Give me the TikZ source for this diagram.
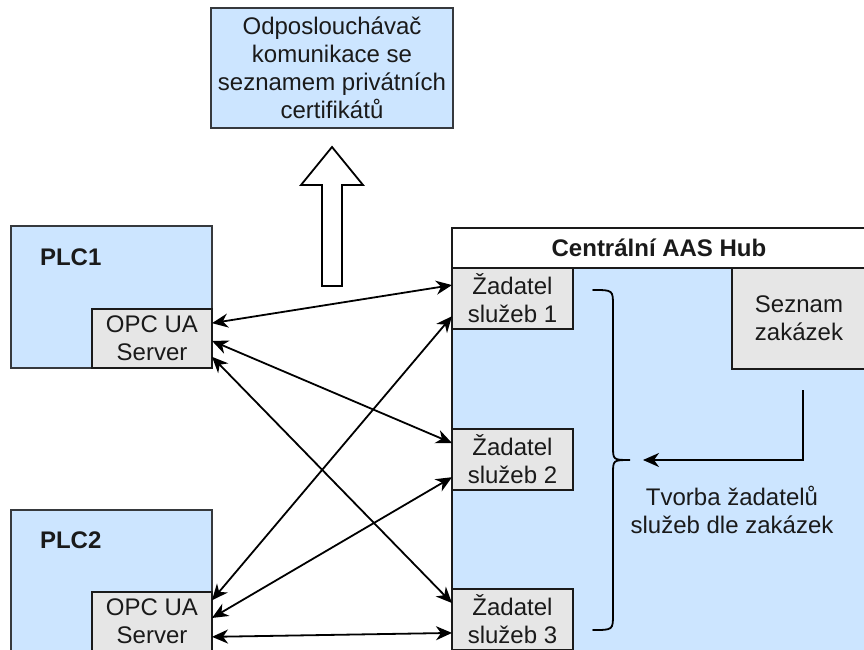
\documentclass[tikz,border=0pt]{standalone}
\usepackage{fontspec}
\setmainfont{Liberation Sans}
\usetikzlibrary{arrows.meta,calc}
\definecolor{boxblue}{HTML}{CCE5FF}
\definecolor{boxedge}{HTML}{36393D}
\definecolor{boxgray}{HTML}{E6E6E6}
\definecolor{ink}{HTML}{1A1A1A}
\tikzset{tipshape/.tip={Stealth[length=16pt,width=14pt,inset=5pt]}}
\begin{document}
\begin{tikzpicture}[x=1pt,y=-1pt,
  every node/.style={inner sep=0pt, outer sep=0pt, text=ink,
    font=\fontsize{24}{28}\selectfont, align=center},
  bluebox/.style={draw=boxedge, fill=boxblue, line width=1.5pt, anchor=north west},
  graybox/.style={draw=ink, fill=boxgray, line width=1.5pt, anchor=north west},
  whitebox/.style={draw=ink, fill=white, line width=1.5pt, anchor=north west},
  conn/.style={draw=black, line width=1.8pt, tipshape-tipshape},
  oneway/.style={draw=black, line width=1.8pt, -tipshape},
  brace/.style={draw=black, line width=1.8pt, line cap=round},
  hollow/.style={draw=black, fill=white, line width=1.8pt, line join=miter}]
\useasboundingbox (0,0) rectangle (864,650);
\clip (0,0) rectangle (864,650);

% listener on top
\node[bluebox, minimum width=242pt, minimum height=120pt] (listener) at (211,8)
  {Odposlouchávač\\komunikace se\\seznamem privátních\\certifikátů};

% hollow upward arrow
\draw[hollow] (322,286) -- (342,286) -- (342,185) -- (363,185) -- (332,147)
  -- (301,185) -- (322,185) -- cycle;

% PLC devices
\node[bluebox, minimum width=201pt, minimum height=142pt] (plc1) at (11,226) {};
\node[anchor=base west, font=\fontsize{24}{28}\selectfont\bfseries] (plc1label) at (40,265) {PLC1};
\node[graybox, minimum width=120pt, minimum height=59pt] (opc1) at (92,309) {OPC UA\\Server};

\node[bluebox, minimum width=201pt, minimum height=142pt] (plc2) at (11,510) {};
\node[anchor=base west, font=\fontsize{24}{28}\selectfont\bfseries] (plc2label) at (40,548) {PLC2};
\node[graybox, minimum width=120pt, minimum height=59pt] (opc2) at (92,592) {OPC UA\\Server};

% central hub
\node[bluebox, draw=ink, minimum width=414pt, minimum height=440pt] (hub) at (452,228) {};
\node[whitebox, minimum width=414pt, minimum height=40pt,
  font=\fontsize{24}{28}\selectfont\bfseries] (hubhead) at (452,228) {Centrální AAS Hub};
\node[graybox, minimum width=134pt, minimum height=101pt] (orders) at (732,268) {Seznam\\zakázek};

\node[graybox, minimum width=121pt, minimum height=61pt] (req1) at (452,268) {Žadatel\\služeb 1};
\node[graybox, minimum width=121pt, minimum height=61pt] (req2) at (452,429) {Žadatel\\služeb 2};
\node[graybox, minimum width=121pt, minimum height=61pt] (req3) at (452,589) {Žadatel\\služeb 3};

% curly bracket grouping the requesters
\draw[brace] (593,290) .. controls (613,290) .. (613,306) -- (613,446)
  .. controls (613,460) .. (630,460) .. controls (613,460) .. (613,474)
  -- (613,614) .. controls (613,630) .. (593,630);

\node (create) at (732,510) {Tvorba žadatelů\\služeb dle zakázek};

% order list feeds requester creation
\coordinate (ordersout) at (803,390);
\coordinate (bracetip) at (643,460);
\draw[oneway] (ordersout) -- (803,460) -- (bracetip);

% OPC UA server <-> requester links
\draw[conn] ($(opc1.north east)!0.24!(opc1.south east)$) -- ($(req1.north west)!0.28!(req1.south west)$);
\draw[conn] ($(opc1.north east)!0.54!(opc1.south east)$) -- ($(req2.north west)!0.23!(req2.south west)$);
\draw[conn] ($(opc1.north east)!0.81!(opc1.south east)$) -- ($(req3.north west)!0.23!(req3.south west)$);
\draw[conn] ($(opc2.north east)!0.14!(opc2.south east)$) -- ($(req1.north west)!0.79!(req1.south west)$);
\draw[conn] ($(opc2.north east)!0.44!(opc2.south east)$) -- ($(req2.north west)!0.79!(req2.south west)$);
\draw[conn] ($(opc2.north east)!0.76!(opc2.south east)$) -- ($(req3.north west)!0.72!(req3.south west)$);
\end{tikzpicture}
\end{document}
